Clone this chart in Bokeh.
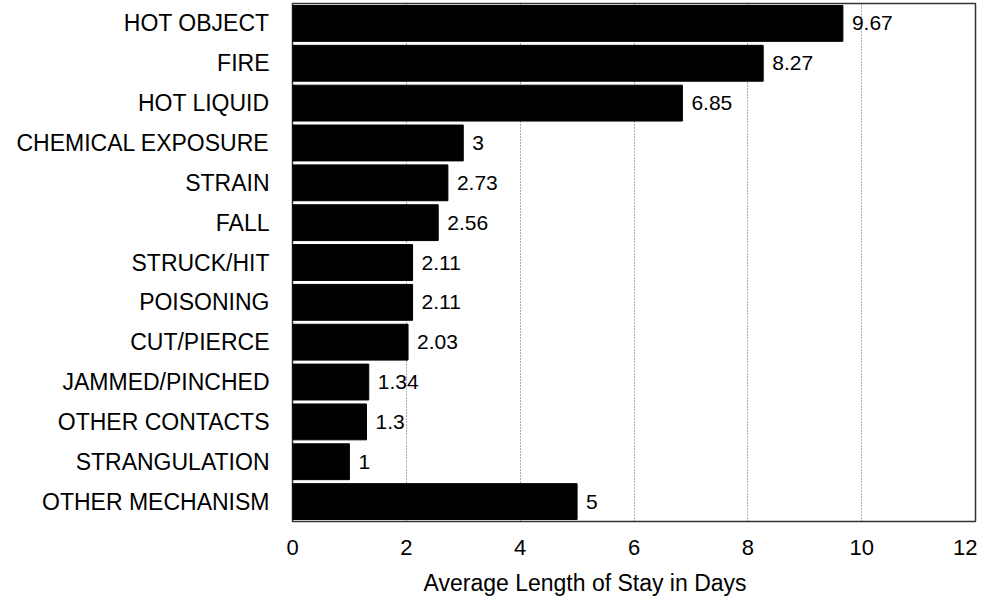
from bokeh.plotting import figure
from bokeh.models import FixedTicker, ColumnDataSource, Title
from bokeh.embed import file_html
from bokeh.resources import INLINE
from bokeh.core.properties import value

categories = ["HOT OBJECT", "FIRE", "HOT LIQUID", "CHEMICAL EXPOSURE", "STRAIN",
              "FALL", "STRUCK/HIT", "POISONING", "CUT/PIERCE", "JAMMED/PINCHED",
              "OTHER CONTACTS", "STRANGULATION", "OTHER MECHANISM"]
avg_days = [9.67, 8.27, 6.85, 3, 2.73, 2.56, 2.11, 2.11, 2.03, 1.34, 1.3, 1, 5]
value_labels = ["9.67", "8.27", "6.85", "3", "2.73", "2.56", "2.11", "2.11",
                "2.03", "1.34", "1.3", "1", "5"]
x_ticks = [0, 2, 4, 6, 8, 10, 12]
grid_ticks = [2, 4, 6, 8, 10]
x_label = "Average Length of Stay in Days"

FONT = "Liberation Sans"

src = ColumnDataSource(dict(cat=categories, val=avg_days, lab=value_labels))

p = figure(width=977, height=605, y_range=list(reversed(categories)), x_range=(0, 12),
           output_backend="svg", toolbar_location=None,
           min_border_left=292, min_border_right=2, min_border_top=3, min_border_bottom=84)

p.hbar(y="cat", right="val", left=0, height=0.9, source=src,
       fill_color="black", line_color="black")
p.text(x="val", y="cat", text="lab", source=src, x_offset=9,
       text_baseline="middle", text_align="left",
       text_font=value(FONT), text_font_size="21px", text_color="black")

p.outline_line_color = "#333333"
p.outline_line_width = 1.5
p.background_fill_color = "white"
p.border_fill_color = "white"

p.ygrid.grid_line_color = None
p.xgrid.ticker = FixedTicker(ticks=grid_ticks)
p.xgrid.grid_line_color = "#555555"
p.xgrid.grid_line_dash = "1 2"
p.xgrid.grid_line_width = 1

p.xaxis.ticker = FixedTicker(ticks=x_ticks)
p.xaxis.axis_line_color = None
p.xaxis.major_tick_line_color = None
p.xaxis.minor_tick_line_color = None
p.xaxis.major_label_text_font = FONT
p.xaxis.major_label_text_font_size = "22px"
p.xaxis.major_label_text_color = "black"
p.xaxis.major_label_standoff = 12

p.yaxis.axis_line_color = None
p.yaxis.major_tick_line_color = None
p.yaxis.minor_tick_line_color = None
p.yaxis.major_label_text_font = FONT
p.yaxis.major_label_text_font_size = "23px"
p.yaxis.major_label_text_color = "black"
p.yaxis.major_label_standoff = 17

p.add_layout(Title(text=x_label, align="left", offset=131, text_font=FONT,
                   text_font_size="23px", text_font_style="normal",
                   text_color="black", standoff=20), "below")

open("out.html", "w").write(file_html(p, INLINE))
